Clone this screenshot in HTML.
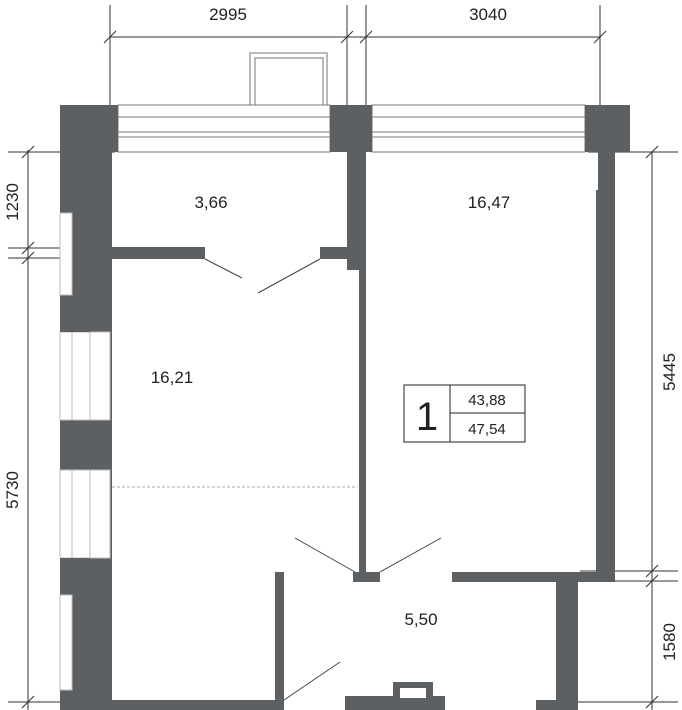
<!DOCTYPE html>
<html><head><style>body{margin:0;background:#fff}svg{display:block}text{font-family:"Liberation Sans",sans-serif;fill:#222}</style></head><body>
<svg width="682" height="710" viewBox="0 0 682 710">
<g stroke="#333" stroke-width="1" fill="none">
<line x1="110" y1="5" x2="110" y2="152"/><line x1="347" y1="5" x2="347" y2="152"/>
<line x1="366" y1="5" x2="366" y2="152"/><line x1="600" y1="5" x2="600" y2="152"/>
<line x1="110" y1="37" x2="600" y2="37"/>
<line x1="104" y1="43" x2="116" y2="31"/><line x1="341" y1="43" x2="353" y2="31"/><line x1="360" y1="43" x2="372" y2="31"/><line x1="594" y1="43" x2="606" y2="31"/>
<line x1="28" y1="150" x2="28" y2="710"/>
<line x1="8" y1="152" x2="115" y2="152"/><line x1="8" y1="248" x2="115" y2="248"/><line x1="8" y1="258" x2="115" y2="258"/><line x1="8" y1="702" x2="115" y2="702"/>
<line x1="22" y1="158" x2="34" y2="146"/><line x1="22" y1="254" x2="34" y2="242"/><line x1="22" y1="264" x2="34" y2="252"/><line x1="22" y1="708" x2="34" y2="696"/>
<line x1="652" y1="152" x2="652" y2="710"/>
<line x1="588" y1="152" x2="678" y2="152"/><line x1="580" y1="571" x2="678" y2="571"/><line x1="550" y1="581" x2="678" y2="581"/><line x1="550" y1="702" x2="678" y2="702"/>
<line x1="646" y1="158" x2="658" y2="146"/><line x1="646" y1="577" x2="658" y2="565"/><line x1="646" y1="587" x2="658" y2="575"/><line x1="646" y1="708" x2="658" y2="696"/>
</g>
<!-- balcony box -->
<rect x="250" y="53" width="77" height="52" fill="none" stroke="#777"/>
<rect x="255" y="58" width="68" height="47" fill="none" stroke="#777"/>
<!-- top windows -->
<g fill="none" stroke="#777">
<rect x="118" y="105" width="212" height="47"/><line x1="118" y1="117" x2="330" y2="117"/><rect x="115" y="132" width="218" height="5"/>
<rect x="372" y="105" width="213" height="47"/><line x1="372" y1="117" x2="585" y2="117"/><rect x="370" y="132" width="220" height="5"/>
</g>
<g fill="#5c6063">
<rect x="60" y="105" width="58" height="47"/><rect x="60" y="105" width="52" height="605"/>
<rect x="330" y="105" width="42" height="47"/>
<rect x="347" y="152" width="19" height="118"/><rect x="359" y="152" width="7" height="425"/>
<rect x="353" y="572" width="27" height="10"/>
<rect x="585" y="105" width="45" height="47"/>
<rect x="598" y="152" width="17" height="40"/><rect x="596" y="190" width="19" height="392"/>
<rect x="110" y="247" width="95" height="12"/><rect x="320" y="247" width="32" height="12"/>
<rect x="452" y="572" width="163" height="10"/><rect x="556" y="582" width="22" height="128"/><rect x="536" y="700" width="42" height="10"/>
<rect x="275" y="572" width="9" height="138"/><rect x="60" y="700" width="224" height="10"/>
<rect x="345" y="696" width="100" height="14"/><rect x="393" y="682" width="40" height="16"/>
</g>
<rect x="400" y="688" width="26" height="10" fill="#fff"/>
<!-- left wall windows -->
<g fill="#fff" stroke="#bbb">
<rect x="60" y="213" width="12" height="82"/>
<rect x="60" y="332" width="50" height="88"/><rect x="60" y="470" width="50" height="88"/>
<rect x="60" y="595" width="12" height="95"/>
</g>
<g stroke="#bbb"><line x1="90" y1="332" x2="90" y2="420"/><line x1="72" y1="332" x2="72" y2="420"/><line x1="90" y1="470" x2="90" y2="558"/><line x1="72" y1="470" x2="72" y2="558"/></g>
<g fill="#5c6063"><rect x="60" y="320" width="30" height="12"/><rect x="60" y="558" width="30" height="12"/></g>
<line x1="112" y1="487" x2="358" y2="487" stroke="#aaa" stroke-dasharray="3,2"/>
<!-- door swings -->
<g stroke="#444"><line x1="205" y1="259" x2="242" y2="278"/><line x1="320" y1="259" x2="258" y2="293"/>
<line x1="355" y1="572" x2="295" y2="538"/><line x1="380" y1="572" x2="441" y2="538"/><line x1="284" y1="700" x2="340" y2="662"/></g>
<!-- info box -->
<g fill="none" stroke="#222"><rect x="404" y="385" width="121" height="57"/><line x1="450" y1="385" x2="450" y2="442"/><line x1="450" y1="413" x2="525" y2="413"/></g>
<text x="427" y="430" font-size="40" text-anchor="middle">1</text>
<text x="487" y="405" font-size="15" text-anchor="middle">43,88</text>
<text x="487" y="434" font-size="15" text-anchor="middle">47,54</text>
<g font-size="17" text-anchor="middle">
<text x="228" y="20">2995</text><text x="488" y="20">3040</text>
<text x="211" y="208">3,66</text><text x="489" y="208">16,47</text>
<text x="172" y="383">16,21</text><text x="421" y="625">5,50</text>
<text transform="translate(18,202) rotate(-90)">1230</text>
<text transform="translate(18,490) rotate(-90)">5730</text>
<text transform="translate(675,372) rotate(-90)">5445</text>
<text transform="translate(675,642) rotate(-90)">1580</text>
</g>
</svg></body></html>
